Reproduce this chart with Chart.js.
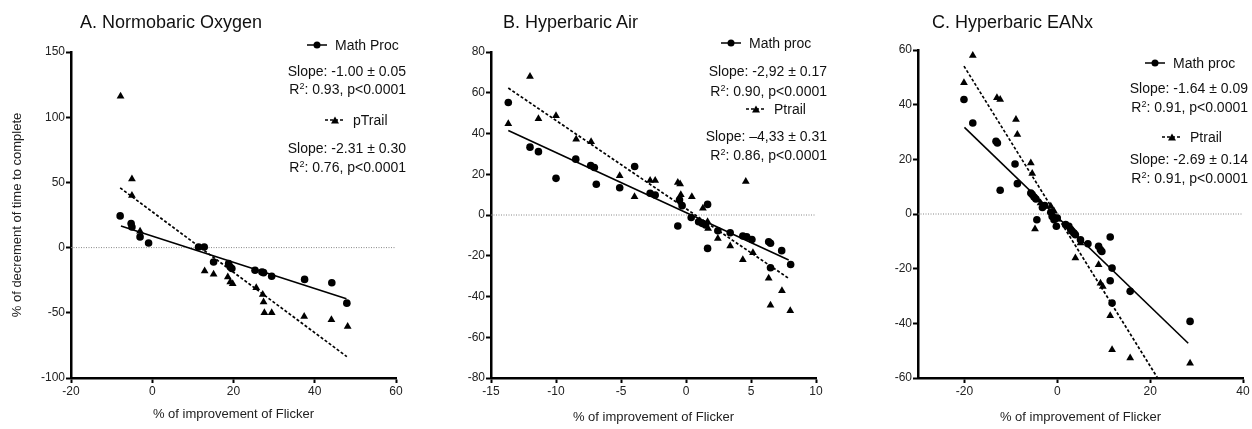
<!DOCTYPE html>
<html>
<head>
<meta charset="utf-8">
<script src="https://cdn.jsdelivr.net/npm/chart.js@4.4.1/dist/chart.umd.min.js"></script>
<style>
  body { margin: 0; background: #fff; }
  #wrap { position: relative; width: 1252px; height: 429px; overflow: hidden;
          font-family: "Liberation Sans", Arial, sans-serif; color: #111; }
  canvas { position: absolute; top: 0; }
  .title { position: absolute; top: 11px; font-size: 18px; line-height: 22px; white-space: nowrap; }
  .t { position: absolute; font-size: 14px; line-height: 16px; white-space: nowrap; }
  .t sup { font-size: 9px; vertical-align: 5px; line-height: 0; }
  .lg svg { vertical-align: middle; margin-right: 8px; margin-top: -2px; }
</style>
</head>
<body>
<div id="wrap">
  <canvas id="chartA" width="420" height="429" style="left:0px"></canvas>
  <canvas id="chartB" width="420" height="429" style="left:420px"></canvas>
  <canvas id="chartC" width="412" height="429" style="left:840px"></canvas>

  <div class="title" style="left:80px">A. Normobaric Oxygen</div>
  <div class="title" style="left:503px">B. Hyperbaric Air</div>
  <div class="title" style="left:932px">C. Hyperbaric EANx</div>

  <!-- panel A notes -->
  <div class="t lg" style="left:307px; top:37px"><svg width="20" height="10"><line x1="0" y1="5" x2="20" y2="5" stroke="#000" stroke-width="1.5"/><circle cx="10" cy="5" r="3.5"/></svg>Math Proc</div>
  <div class="t" style="right:846px; top:63px">Slope: -1.00 ± 0.05</div>
  <div class="t" style="right:846px; top:81px">R<sup>2</sup>: 0.93, p&lt;0.0001</div>
  <div class="t lg" style="left:325px; top:112px"><svg width="20" height="10"><line x1="0" y1="5" x2="20" y2="5" stroke="#000" stroke-width="1.5" stroke-dasharray="3,2"/><polygon points="10,1.5 14,8.5 6,8.5"/></svg>pTrail</div>
  <div class="t" style="right:846px; top:140px">Slope: -2.31 ± 0.30</div>
  <div class="t" style="right:846px; top:159px">R<sup>2</sup>: 0.76, p&lt;0.0001</div>

  <!-- panel B notes -->
  <div class="t lg" style="left:721px; top:35px"><svg width="20" height="10"><line x1="0" y1="5" x2="20" y2="5" stroke="#000" stroke-width="1.5"/><circle cx="10" cy="5" r="3.5"/></svg>Math proc</div>
  <div class="t" style="right:425px; top:63px">Slope: -2,92 ± 0.17</div>
  <div class="t" style="right:425px; top:83px">R<sup>2</sup>: 0.90, p&lt;0.0001</div>
  <div class="t lg" style="left:746px; top:101px"><svg width="20" height="10"><line x1="0" y1="5" x2="20" y2="5" stroke="#000" stroke-width="1.5" stroke-dasharray="3,2"/><polygon points="10,1.5 14,8.5 6,8.5"/></svg>Ptrail</div>
  <div class="t" style="right:425px; top:128px">Slope: –4,33 ± 0.31</div>
  <div class="t" style="right:425px; top:147px">R<sup>2</sup>: 0.86, p&lt;0.0001</div>

  <!-- panel C notes -->
  <div class="t lg" style="left:1145px; top:55px"><svg width="20" height="10"><line x1="0" y1="5" x2="20" y2="5" stroke="#000" stroke-width="1.5"/><circle cx="10" cy="5" r="3.5"/></svg>Math proc</div>
  <div class="t" style="right:4px; top:80px">Slope: -1.64 ± 0.09</div>
  <div class="t" style="right:4px; top:99px">R<sup>2</sup>: 0.91, p&lt;0.0001</div>
  <div class="t lg" style="left:1162px; top:129px"><svg width="20" height="10"><line x1="0" y1="5" x2="20" y2="5" stroke="#000" stroke-width="1.5" stroke-dasharray="3,2"/><polygon points="10,1.5 14,8.5 6,8.5"/></svg>Ptrail</div>
  <div class="t" style="right:4px; top:151px">Slope: -2.69 ± 0.14</div>
  <div class="t" style="right:4px; top:170px">R<sup>2</sup>: 0.91, p&lt;0.0001</div>
</div>

<script>
// A. Normobaric Oxygen
const aMathX = [-7.9, -5.2, -5.0, -3.0, -0.9, 11.4, 12.8, 15.1, 18.8, 19.2, 19.6, 25.3, 27.0, 27.4, 29.4, 37.5, 44.2, 47.9];
const aMathY = [24.3, 18.5, 15.8, 8.2, 3.5, 0.5, 0.5, -11, -12.3, -14.9, -16, -17.4, -18.7, -19.2, -22, -24.4, -26.9, -42.6];
const aTrailX = [-7.8, -5.0, -5.0, -3.0, 12.9, 15.1, 18.6, 19.2, 19.8, 25.6, 27.2, 27.4, 27.6, 29.4, 37.4, 44.1, 48.1];
const aTrailY = [116, 52.6, 40, 12.5, -18, -20.5, -22.6, -26.4, -27.7, -30.8, -36, -41.8, -50, -50, -52.8, -55.4, -60.5];
const aMathFitX = [-7.7, 47.8];
const aMathFitY = [16.6, -39.2];
const aTrailFitX = [-7.9, 47.9];
const aTrailFitY = [45.8, -83.6];
const aXTicks = [-20, 0, 20, 40, 60];
const aYTicks = [-100, -50, 0, 50, 100, 150];

// B. Hyperbaric Air
const bMathX = [-13.67, -12, -11.35, -10, -8.48, -7.33, -7.05, -6.9, -5.1, -3.95, -2.76, -2.37, -0.63, -0.5, -0.3, 0.4, 0.97, 1.23, 1.5, 1.66, 1.66, 2.45, 3.4, 4.37, 4.67, 5.07, 6.36, 6.5, 6.5, 7.36, 8.05];
const bMathY = [55.2, 33.3, 31.1, 18, 27.4, 24.3, 23.3, 15.1, 13.4, 23.8, 10.7, 9.8, -5.4, 7.4, 4.6, -1.2, -3.3, -4.1, -4.9, 5.2, -16.4, -7.7, -8.7, -10.3, -10.7, -12, -13.1, -13.9, -25.9, -17.5, -24.3];
const bTrailX = [-13.67, -12, -11.35, -10, -8.45, -7.3, -5.1, -3.96, -2.76, -2.37, -0.63, -0.45, -0.4, 0.45, 1.3, 1.66, 1.7, 2.45, 3.4, 4.37, 4.6, 5.15, 6.36, 6.5, 7.38, 8.02];
const bTrailY = [44.75, 68, 47.2, 48.7, 37.2, 36, 19.3, 9, 16.9, 16.9, 15.9, 15.2, 10, 9, 3.3, -3.3, -6.6, -11.5, -15.2, -22, 16.4, -18.5, -31.1, -44.3, -37.2, -47];
const bMathFitX = [-13.67, 7.9];
const bMathFitY = [41.5, -22.1];
const bTrailFitX = [-13.67, 7.9];
const bTrailFitY = [62.3, -31.1];
const bXTicks = [-15, -10, -5, 0, 5, 10];
const bYTicks = [-80, -60, -40, -20, 0, 20, 40, 60, 80];

// C. Hyperbaric EANx
const cMathX = [-20.1, -18.2, -13.2, -12.9, -12.3, -9.1, -8.6, -5.7, -5.4, -5.0, -4.6, -4.4, -3.2, -2.7, -1.4, -1.1, -0.7, -0.2, 0, 1.8, 2.5, 2.9, 3.2, 3.6, 3.9, 5.0, 6.6, 8.9, 9.3, 9.6, 11.4, 11.8, 11.4, 11.8, 15.7, 28.6];
const cMathY = [41.9, 33.3, 26.6, 26.0, 8.7, 18.3, 11.1, 7.7, 7.1, 6.2, 5.5, -2.1, 2.4, 3.1, 0.6, -0.9, -2.1, -4.5, -1.5, -3.9, -4.5, -5.7, -6.3, -7.0, -7.6, -9.4, -10.9, -11.8, -13.1, -13.7, -8.4, -19.8, -24.4, -32.6, -28.3, -39.3];
const cTrailX = [-20.1, -18.2, -13.0, -12.3, -8.9, -8.6, -5.7, -5.4, -4.8, -4.3, -3.6, -1.4, -0.7, 3.9, 5.0, 8.9, 9.3, 9.8, 11.4, 11.8, 15.7, 28.6];
const cTrailY = [48, 58, 42.5, 41.9, 34.6, 29.1, 18.7, 14.8, -5.5, 5.2, 4.0, 2.8, 1.0, -16.1, -10.6, -18.6, -25.3, -26.5, -37.2, -49.7, -52.7, -54.6];
const cMathFitX = [-20, 28.2];
const cMathFitY = [31.7, -47.3];
const cTrailFitX = [-20.1, 21.6];
const cTrailFitY = [54.1, -60];
const cXTicks = [-20, 0, 20, 40];
const cYTicks = [-60, -40, -20, 0, 20, 40, 60];

const fontFamily = "'Liberation Sans', Arial, sans-serif";

function pts(xs, ys) {
  return xs.map((x, i) => ({ x: x, y: ys[i] }));
}

// dotted line at y = 0
const zeroLine = {
  id: 'zeroLine',
  beforeDatasetsDraw(chart) {
    const { ctx, chartArea, scales } = chart;
    const py = scales.y.getPixelForValue(0);
    ctx.save();
    ctx.strokeStyle = '#888';
    ctx.lineWidth = 1;
    ctx.setLineDash([1, 1.5]);
    ctx.beginPath();
    ctx.moveTo(chartArea.left, py);
    ctx.lineTo(chartArea.right, py);
    ctx.stroke();
    ctx.restore();
  }
};

function makePanel(id, p) {
  const ctx = document.getElementById(id).getContext('2d');
  return new Chart(ctx, {
    type: 'scatter',
    data: {
      datasets: [{
        label: 'Math fit',
        data: pts(p.mathFitX, p.mathFitY),
        showLine: true,
        pointRadius: 0,
        borderColor: '#000',
        borderWidth: 1.6
      }, {
        label: 'Trail fit',
        data: pts(p.trailFitX, p.trailFitY),
        showLine: true,
        pointRadius: 0,
        borderColor: '#000',
        borderWidth: 1.7,
        borderDash: [3, 2]
      }, {
        label: 'Math proc',
        data: pts(p.mathX, p.mathY),
        pointStyle: 'circle',
        pointRadius: 3.8,
        backgroundColor: '#000',
        borderColor: '#000',
        borderWidth: 0
      }, {
        label: 'Ptrail',
        data: pts(p.trailX, p.trailY),
        pointStyle: 'triangle',
        pointRadius: 4.5,
        backgroundColor: '#000',
        borderColor: '#000',
        borderWidth: 0
      }]
    },
    options: {
      responsive: false,
      animation: false,
      layout: {
        padding: { left: 0, top: p.top, right: p.right, bottom: 0 }
      },
      plugins: {
        legend: { display: false },
        tooltip: { enabled: false }
      },
      scales: {
        x: {
          type: 'linear',
          min: p.xMin,
          max: p.xMax,
          afterBuildTicks: s => { s.ticks = p.xTicks.map(v => ({ value: v })); },
          afterFit: s => { s.height = 51; },
          grid: { drawOnChartArea: false, tickLength: 5, tickWidth: 2, tickColor: '#000' },
          border: { color: '#000', width: 2.5 },
          ticks: { color: '#222', font: { family: fontFamily, size: 12 }, padding: 1, maxRotation: 0, autoSkip: false },
          title: {
            display: true,
            text: '% of improvement of Flicker',
            color: '#222',
            font: { family: fontFamily, size: 13 },
            padding: { top: 0, bottom: p.xTitlePad }
          }
        },
        y: {
          type: 'linear',
          min: p.yMin,
          max: p.yMax,
          afterBuildTicks: s => { s.ticks = p.yTicks.map(v => ({ value: v })); },
          afterFit: s => { s.width = p.left; },
          grid: { drawOnChartArea: false, tickLength: 5, tickWidth: 2, tickColor: '#000' },
          border: { color: '#000', width: 2.5 },
          ticks: { color: '#222', font: { family: fontFamily, size: 12 }, padding: 1, autoSkip: false },
          title: {
            display: !!p.yTitle,
            text: p.yTitle || '',
            color: '#222',
            font: { family: fontFamily, size: 13 },
            padding: { top: 10, bottom: 0 }
          }
        }
      }
    },
    plugins: [zeroLine]
  });
}

makePanel('chartA', {
  mathX: aMathX, mathY: aMathY, trailX: aTrailX, trailY: aTrailY,
  mathFitX: aMathFitX, mathFitY: aMathFitY, trailFitX: aTrailFitX, trailFitY: aTrailFitY,
  xMin: -20, xMax: 60, xTicks: aXTicks, yMin: -100, yMax: 150, yTicks: aYTicks,
  yTitle: '% of decrement of time to complete',
  left: 71, top: 52, right: 24, xTitlePad: 7
});

makePanel('chartB', {
  mathX: bMathX, mathY: bMathY, trailX: bTrailX, trailY: bTrailY,
  mathFitX: bMathFitX, mathFitY: bMathFitY, trailFitX: bTrailFitX, trailFitY: bTrailFitY,
  xMin: -15, xMax: 10, xTicks: bXTicks, yMin: -80, yMax: 80, yTicks: bYTicks,
  left: 71, top: 52, right: 24, xTitlePad: 4
});

makePanel('chartC', {
  mathX: cMathX, mathY: cMathY, trailX: cTrailX, trailY: cTrailY,
  mathFitX: cMathFitX, mathFitY: cMathFitY, trailFitX: cTrailFitX, trailFitY: cTrailFitY,
  xMin: -30, xMax: 40, xTicks: cXTicks, yMin: -60, yMax: 60, yTicks: cYTicks,
  left: 78, top: 50, right: 9, xTitlePad: 4
});
</script>
</body>
</html>
